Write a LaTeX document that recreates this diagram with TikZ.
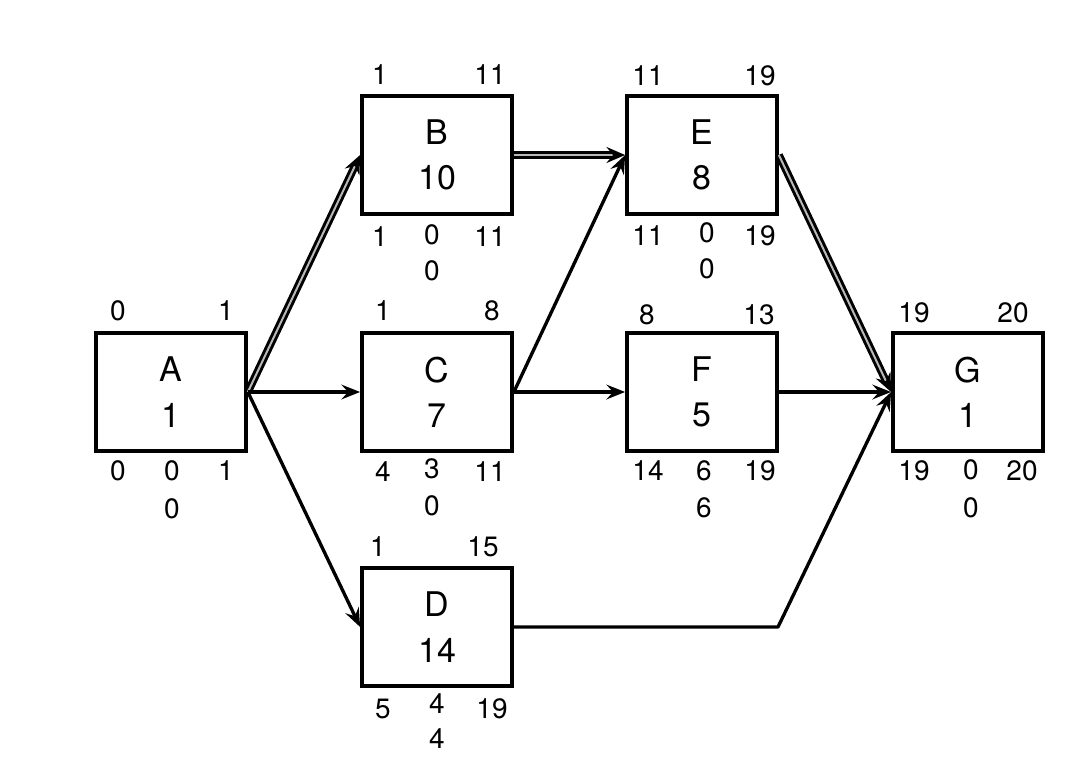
\documentclass[tikz,border=0pt]{standalone}
\usepackage{fontspec}
\setmainfont{TeX Gyre Heros}
\usetikzlibrary{arrows.meta}
\tikzset{
  act/.style={draw, line width=2.8pt, minimum width=112.5pt, minimum height=88.5pt, inner sep=0pt, align=center,
    font=\fontsize{25.5}{34}\selectfont},
  lab/.style={inner sep=0pt, anchor=center, font=\fontsize{21}{25}\selectfont},
  con/.style={line width=2.5pt, -{Stealth[length=14pt, width=11pt, inset=5pt]}},
  crit/.style={line width=2.2pt, double=gray!55, double distance=1.5pt, -{Stealth[length=14pt, width=12pt, inset=5pt]}},
}
\begin{document}
\begin{tikzpicture}[x=0.75pt, y=-0.75pt]
\useasboundingbox (0,0) rectangle (1077,768);
% boxes
\node[act] (A) at (171,392) {A\\1};
\node[act] (B) at (437,155) {B\\10};
\node[act] (C) at (437,392) {C\\7};
\node[act] (D) at (437,627) {D\\14};
\node[act] (E) at (702,155) {E\\8};
\node[act] (F) at (702,392) {F\\5};
\node[act] (G) at (968,392) {G\\1};
% labels A
\node[lab] (a1) at (118,311) {0};
\node[lab] (a2) at (226,311) {1};
\node[lab] (a3) at (118,471) {0};
\node[lab] (a4) at (172,471) {0};
\node[lab] (a5) at (226,471) {1};
\node[lab] (a6) at (172,509) {0};
% labels B
\node[lab] (b1) at (380,75) {1};
\node[lab] (b2) at (490,75) {11};
\node[lab] (b3) at (380,237) {1};
\node[lab] (b4) at (432,235) {0};
\node[lab] (b5) at (490,237) {11};
\node[lab] (b6) at (432,271) {0};
% labels C
\node[lab] (c1) at (383,311) {1};
\node[lab] (c2) at (492,311) {8};
\node[lab] (c3) at (383,472) {4};
\node[lab] (c4) at (432,469) {3};
\node[lab] (c5) at (490,472) {11};
\node[lab] (c6) at (432,506) {0};
% labels D
\node[lab] (d1) at (378,547) {1};
\node[lab] (d2) at (483,547) {15};
\node[lab] (d3) at (383,709) {5};
\node[lab] (d4) at (437,704) {4};
\node[lab] (d5) at (492,709) {19};
\node[lab] (d6) at (437,739) {4};
% labels E
\node[lab] (e1) at (648,76) {11};
\node[lab] (e2) at (760,76) {19};
\node[lab] (e3) at (648,236) {11};
\node[lab] (e4) at (707,233) {0};
\node[lab] (e5) at (760,236) {19};
\node[lab] (e6) at (707,269) {0};
% labels F
\node[lab] (f1) at (647,315) {8};
\node[lab] (f2) at (759,315) {13};
\node[lab] (f3) at (648,471) {14};
\node[lab] (f4) at (704,471) {6};
\node[lab] (f5) at (760,471) {19};
\node[lab] (f6) at (704,508) {6};
% labels G
\node[lab] (g1) at (914,313) {19};
\node[lab] (g2) at (1013,313) {20};
\node[lab] (g3) at (914,471) {19};
\node[lab] (g4) at (971,470) {0};
\node[lab] (g5) at (1022,471) {20};
\node[lab] (g6) at (971,508) {0};
% connectors
\draw[crit] (A.east) -- (B.west);
\draw[con] (A.east) -- (C.west);
\draw[con] (A.east) -- (D.west);
\draw[crit] (B.east) -- (E.west);
\draw[con] (C.east) -- (E.west);
\draw[con] (C.east) -- (F.west);
\draw[crit] (E.east) -- (G.west);
\draw[con] (F.east) -- (G.west);
\coordinate (dg) at (778,627);
\draw[con, line join=round] (D.east) -- (dg) -- (G.west);
\end{tikzpicture}
\end{document}
